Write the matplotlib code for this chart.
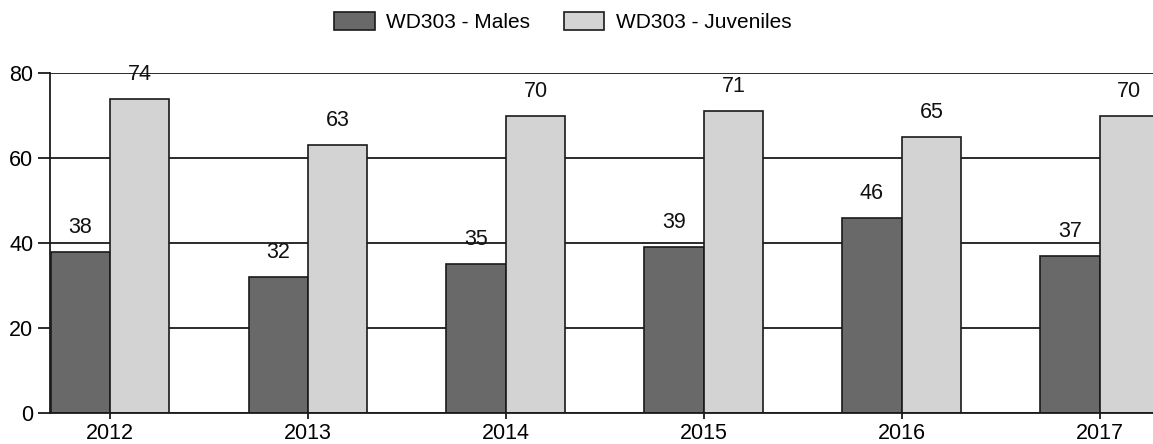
import matplotlib.pyplot as plt
import numpy as np

plt.rcParams['font.family'] = ['Liberation Sans', 'DejaVu Sans']

years = ['2012', '2013', '2014', '2015', '2016', '2017']
males = [38, 32, 35, 39, 46, 37]
juveniles = [74, 63, 70, 71, 65, 70]

fig = plt.figure(figsize=(11.53, 4.44), dpi=100)
ax = fig.add_axes([50 / 1153, 31 / 444, 1.0 - 50 / 1153, 340 / 444])

x = np.arange(len(years))
w = 0.3
b1 = ax.bar(x - w / 2, males, w, color='#696969', edgecolor='#1a1a1a',
            linewidth=1.2, label='WD303 - Males', zorder=2)
b2 = ax.bar(x + w / 2, juveniles, w, color='#d3d3d3', edgecolor='#1a1a1a',
            linewidth=1.2, label='WD303 - Juveniles', zorder=2)

for bars, vals in ((b1, males), (b2, juveniles)):
    for rect, v in zip(bars, vals):
        ax.annotate(str(v), (rect.get_x() + rect.get_width() / 2, v),
                    xytext=(0, 10), textcoords='offset points',
                    ha='center', va='bottom', fontsize=15.5, color='#111111')

ax.set_ylim(0, 80)
ax.set_xlim(-0.303, 5.27)
ax.set_yticks([0, 20, 40, 60, 80])
ax.set_xticks(x)
ax.set_xticklabels(years)
ax.yaxis.grid(True, color='#1a1a1a', linewidth=1.3, zorder=1)
ax.set_axisbelow(True)

for s in ('top', 'right'):
    ax.spines[s].set_visible(False)
for s in ('left', 'bottom'):
    ax.spines[s].set_color('#1a1a1a')
    ax.spines[s].set_linewidth(1.3)

ax.tick_params(axis='y', length=9, width=1.3, labelsize=15.5, pad=3, color='#1a1a1a')
ax.tick_params(axis='x', length=4, width=1.3, labelsize=15.5, pad=3, color='#1a1a1a')

fig.legend(loc='upper center', bbox_to_anchor=(0.488, 1.015), ncol=2, frameon=False,
           fontsize=15, handlelength=1.95, handleheight=0.95, columnspacing=1.6,
           handletextpad=0.55)

fig.savefig('out.png', dpi=100)
